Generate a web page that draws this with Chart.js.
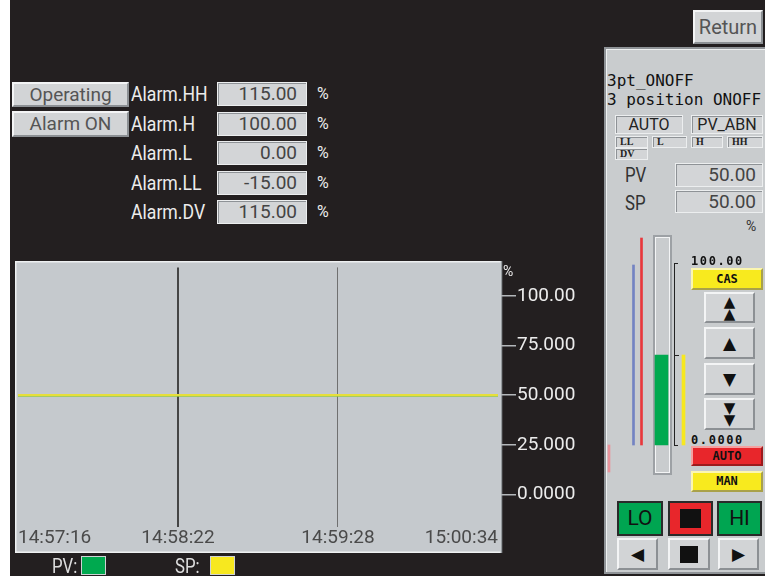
<!DOCTYPE html>
<html>
<head>
<meta charset="utf-8">
<script src="https://cdn.jsdelivr.net/npm/chart.js@4/dist/chart.umd.min.js"></script>
<style>
    body { margin: 0; width: 765px; height: 579px; position: relative; overflow: hidden; background: #fff; font-family: "Roboto", "DejaVu Sans", sans-serif }
    div, span, canvas { position: absolute; box-sizing: border-box }
    #screen { left: 10px; top: 0; width: 755px; height: 576px; background: #231f20 }
    .btn { background: #d2d4d6; border: 2px solid; border-color: #f3f4f5 #8c9094 #8c9094 #f3f4f5; color: #555; text-align: center; white-space: nowrap }
    .box { background: #d3d5d7; border: 1px solid #eceeef; box-shadow: inset 1px 1px 0 #8e9296; color: #444; text-align: right; white-space: nowrap }
    .lbl { color: #ececec; white-space: nowrap }
    .nar { transform: scaleX(0.84); transform-origin: left center }
    .mono { font-family: "DejaVu Sans Mono", monospace }
    .tiny { font-family: "Liberation Serif", "DejaVu Serif", serif; font-weight: bold; font-size: 10px; line-height: 10px; text-align: left; padding-left: 4px; color: #222 }
    .pix { font-family: "DejaVu Sans Mono", monospace; font-weight: bold; color: #111 }
    .col { border: 2px solid #2a2a2a; text-align: center; color: #111 }
</style>
</head>
<body>
<div id="screen"></div>

<div class="btn" style="left:693px;top:10px;width:70px;height:34px;line-height:30px;font-size:20px">Return</div>
<div class="btn" style="left:12px;top:82px;width:117px;height:25px;line-height:21px;font-size:19px">Operating</div>
<div class="btn" style="left:12px;top:111px;width:117px;height:26px;line-height:22px;font-size:19px">Alarm ON</div>
<div id="alarmRows"></div>

<!-- trend -->
<canvas id="trendChart" width="570" height="305" style="left:15px;top:255px"></canvas>
<div class="lbl" style="left:503px;top:263px;font-size:14px">%</div>
<div class="lbl nar" style="left:52px;top:555px;font-size:20px;line-height:22px;color:#ddd">PV:</div>
<div style="left:81px;top:556px;width:25px;height:19px;background:#00a94f;border:1px solid #cfd2d4"></div>
<div class="lbl nar" style="left:175px;top:555px;font-size:20px;line-height:22px;color:#ddd">SP:</div>
<div style="left:210px;top:556px;width:25px;height:19px;background:#f7e81f;border:1px solid #cfd2d4"></div>

<!-- faceplate -->
<div style="left:604px;top:47px;width:163px;height:527px;background:#c9ccce;border:2px solid #8f9397;border-right:none;box-shadow:inset 1px 1px 0 #eef0f1"></div>
<div class="mono" id="tagName" style="left:607px;top:72px;font-size:16px;line-height:18px;color:#111"></div>
<div class="mono" id="tagComment" style="left:607px;top:91px;font-size:16px;line-height:18px;color:#111;white-space:nowrap"></div>
<div class="box" style="left:615px;top:115px;width:68px;height:19px;line-height:17px;font-size:16px;text-align:center;color:#222">AUTO</div>
<div class="box" style="left:691px;top:115px;width:72px;height:19px;line-height:17px;font-size:16px;text-align:center;color:#222">PV_ABN</div>
<div id="alarmLamps"></div>
<div class="lbl nar" style="left:625px;top:163px;font-size:20px;line-height:24px;color:#333">PV</div>
<div class="box" id="pvBox" style="left:675px;top:163px;width:88px;height:24px;line-height:22px;font-size:19px;padding-right:6px"></div>
<div class="lbl nar" style="left:625px;top:191px;font-size:20px;line-height:24px;color:#333">SP</div>
<div class="box" id="spBox" style="left:675px;top:190px;width:88px;height:23px;line-height:21px;font-size:19px;padding-right:6px"></div>
<div class="lbl" style="left:746px;top:218px;font-size:14px;color:#333">%</div>

<div style="left:653px;top:235px;width:19px;height:240px;border:2px solid #9da1a5;box-shadow:inset 1px 1px 0 #f3f4f5, inset -1px -1px 0 #f3f4f5"></div>
<div style="left:674px;top:263px;width:4px;height:183px;border:1px solid #222;border-right:none"></div>
<div style="left:675px;top:355px;width:4px;height:1px;background:#222"></div>
<canvas id="barChart" width="86" height="240" style="left:604px;top:235px"></canvas>
<div class="pix" id="barTop" style="left:691px;top:255px;font-size:12px;letter-spacing:1.6px;line-height:12px"></div>
<div class="pix" id="barBottom" style="left:691px;top:434px;font-size:12px;letter-spacing:1.6px;line-height:12px"></div>

<div class="btn pix" style="left:691px;top:268px;width:72px;height:22px;line-height:18px;font-size:12px;background:#f8ea1e;border-color:#fbf6b0 #a9a14a #a9a14a #fbf6b0">CAS</div>
<div class="btn" style="left:704px;top:292px;width:51px;height:31px;color:#111;font-size:15px;line-height:12px;padding-top:2px">▲<br>▲</div>
<div class="btn" style="left:704px;top:327px;width:51px;height:32px;color:#111;font-size:17px;line-height:28px">▲</div>
<div class="btn" style="left:704px;top:363px;width:51px;height:32px;color:#111;font-size:17px;line-height:28px">▼</div>
<div class="btn" style="left:704px;top:398px;width:51px;height:32px;color:#111;font-size:15px;line-height:12px;padding-top:2px">▼<br>▼</div>
<div class="btn pix" style="left:691px;top:446px;width:72px;height:20px;line-height:16px;font-size:12px;background:#e8262b;border-color:#f4a0a0 #9c1a1d #9c1a1d #f4a0a0">AUTO</div>
<div class="btn pix" style="left:691px;top:471px;width:72px;height:21px;line-height:17px;font-size:12px;background:#f8ea1e;border-color:#fbf6b0 #a9a14a #a9a14a #fbf6b0">MAN</div>

<div class="col" style="left:617px;top:501px;width:46px;height:35px;line-height:31px;font-size:21px;background:#00a551">LO</div>
<div class="col" style="left:668px;top:501px;width:45px;height:35px;background:#e8262b"><div style="left:10px;top:6px;width:21px;height:19px;background:#111"></div></div>
<div class="col" style="left:717px;top:501px;width:45px;height:35px;line-height:31px;font-size:21px;background:#00a551">HI</div>
<div class="btn" style="left:617px;top:538px;width:41px;height:32px;line-height:28px;font-size:17px;color:#111">◀</div>
<div class="btn" style="left:668px;top:538px;width:42px;height:32px"><div style="left:10px;top:6px;width:18px;height:17px;background:#111"></div></div>
<div class="btn" style="left:718px;top:538px;width:41px;height:32px;line-height:28px;font-size:17px;color:#111">▶</div>

<script>
// tag values
const tagName = "3pt_ONOFF"
const tagComment = "3 position ONOFF"
const alarmNames = ["Alarm.HH", "Alarm.H", "Alarm.L", "Alarm.LL", "Alarm.DV"]
const alarmValues = [115, 100, 0, -15, 115]
const lampNames = ["LL", "L", "H", "HH", "DV"]
const pvValue = 50
const spValue = 50

// trend data (seconds after 14:57:16)
const trendTimes = [0, 66, 132, 198]
const timeLabels = ["14:57:16", "14:58:22", "14:59:28", "15:00:34"]
const pvTrend = [50, 50, 50, 50]
const spTrend = [50, 50, 50, 50]
const yTicks = [0, 25, 50, 75, 100]
const yTickLabels = ["0.0000", "25.000", "50.000", "75.000", "100.00"]
const barScaleLabels = ["100.00", "0.0000"]

const alarmRows = document.getElementById("alarmRows")
alarmNames.forEach((name, i) => {
    const top = 82 + i * 29.5
    alarmRows.insertAdjacentHTML("beforeend",
        "<div class='lbl nar' style='left:131px;top:" + top + "px;font-size:21px;line-height:24px'>" + name + "</div>" +
        "<div class='box' style='left:217px;top:" + top + "px;width:90px;height:24px;line-height:22px;font-size:19px;padding-right:9px'>" + alarmValues[i].toFixed(2) + "</div>" +
        "<div class='lbl' style='left:317px;top:" + top + "px;font-size:16px;line-height:24px'>%</div>")
})

const lampBoxes = [[615, 136, 33], [652, 136, 35], [691, 136, 32], [727, 136, 36], [615, 148, 33]]
const alarmLamps = document.getElementById("alarmLamps")
lampNames.forEach((name, i) => {
    const b = lampBoxes[i]
    alarmLamps.insertAdjacentHTML("beforeend",
        "<div class='box tiny' style='left:" + b[0] + "px;top:" + b[1] + "px;width:" + b[2] + "px;height:12px'>" + name + "</div>")
})

document.getElementById("tagName").textContent = tagName
document.getElementById("tagComment").textContent = tagComment
document.getElementById("pvBox").textContent = pvValue.toFixed(2)
document.getElementById("spBox").textContent = spValue.toFixed(2)
document.getElementById("barTop").textContent = barScaleLabels[0]
document.getElementById("barBottom").textContent = barScaleLabels[1]

const trendBackground = {
    id: "trendBackground",
    beforeDraw: (chart) => {
        const { ctx, chartArea } = chart
        const right = chartArea.right + 1
        ctx.save()
        ctx.fillStyle = "#c5c9cd"
        ctx.fillRect(0, 6, right, 292)
        ctx.strokeStyle = "#eef0f1"
        ctx.lineWidth = 1.5
        ctx.strokeRect(0.75, 6.75, right - 1.5, 290.5)
        ctx.strokeStyle = "#959a9e"
        ctx.beginPath()
        ctx.moveTo(right - 0.5, 6)
        ctx.lineTo(right - 0.5, 298)
        ctx.stroke()
        ctx.restore()
    }
}

const trendFont = "Roboto, 'DejaVu Sans', sans-serif"

new Chart(document.getElementById("trendChart").getContext("2d"), {
    type: "line",
    data: {
        datasets: [
            {
                label: "PV",
                data: trendTimes.map((t, i) => ({ x: t, y: pvTrend[i] })),
                borderColor: "#00a94f",
                borderWidth: 2.5,
                pointRadius: 0,
                order: 1
            },
            {
                label: "SP",
                data: trendTimes.map((t, i) => ({ x: t, y: spTrend[i] })),
                borderColor: "#e6de3a",
                borderWidth: 2.5,
                pointRadius: 0,
                order: 0
            }
        ]
    },
    options: {
        responsive: false,
        animation: false,
        layout: { padding: { left: 2, top: 10, right: 0, bottom: 0 } },
        plugins: {
            legend: { display: false },
            tooltip: { enabled: false }
        },
        scales: {
            x: {
                type: "linear",
                min: -0.41,
                max: 199.24,
                afterBuildTicks: (scale) => { scale.ticks = trendTimes.map(v => ({ value: v })) },
                afterFit: (scale) => { scale.height = 33 },
                grid: {
                    drawTicks: false,
                    color: (ctx) => ["transparent", "#454545", "#707070", "transparent"][ctx.index],
                    lineWidth: (ctx) => ctx.index === 1 ? 2 : 1
                },
                border: { display: false },
                ticks: {
                    align: "inner",
                    padding: 0,
                    maxRotation: 0,
                    color: "#4a4a4a",
                    font: { family: trendFont, size: 19 },
                    callback: (value, index) => timeLabels[index]
                }
            },
            y: {
                position: "right",
                min: -16.5,
                max: 114.5,
                afterBuildTicks: (scale) => { scale.ticks = yTicks.map(v => ({ value: v })) },
                afterFit: (scale) => { scale.width = 84 },
                grid: {
                    drawOnChartArea: false,
                    tickLength: 15,
                    color: "#b3b7ba",
                    lineWidth: 1.5
                },
                border: { display: false },
                ticks: {
                    padding: 1,
                    color: "#ececec",
                    font: { family: trendFont, size: 19 },
                    callback: (value, index) => yTickLabels[index]
                }
            }
        }
    },
    plugins: [trendBackground]
})

// faceplate bar graph: alarm bands, PV bar and SP marker
const barSlots = { ll: 5, hl: 29.5, hh: 37.5, pv: 57.5, sp: 79.5 }

new Chart(document.getElementById("barChart").getContext("2d"), {
    type: "bar",
    data: {
        datasets: [
            { data: [{ x: barSlots.ll, y: [alarmValues[3], alarmValues[2]] }], backgroundColor: "#e9939b", barThickness: 2 },
            { data: [{ x: barSlots.hl, y: [alarmValues[2], alarmValues[1]] }], backgroundColor: "#7383c2", barThickness: 2 },
            { data: [{ x: barSlots.hh, y: [alarmValues[2], alarmValues[0]] }], backgroundColor: "#e8383c", barThickness: 2 },
            { data: [{ x: barSlots.pv, y: [0, pvValue] }], backgroundColor: "#00a94f", barThickness: 13 },
            { data: [{ x: barSlots.sp, y: [0, spValue] }], backgroundColor: "#f7e81f", barThickness: 3 }
        ]
    },
    options: {
        responsive: false,
        animation: false,
        layout: { padding: 0 },
        datasets: { bar: { grouped: false } },
        plugins: {
            legend: { display: false },
            tooltip: { enabled: false }
        },
        scales: {
            x: { type: "linear", min: 0, max: 86, offset: false, display: false },
            y: { min: -16.67, max: 116.67, display: false }
        }
    }
})
</script>
</body>
</html>
